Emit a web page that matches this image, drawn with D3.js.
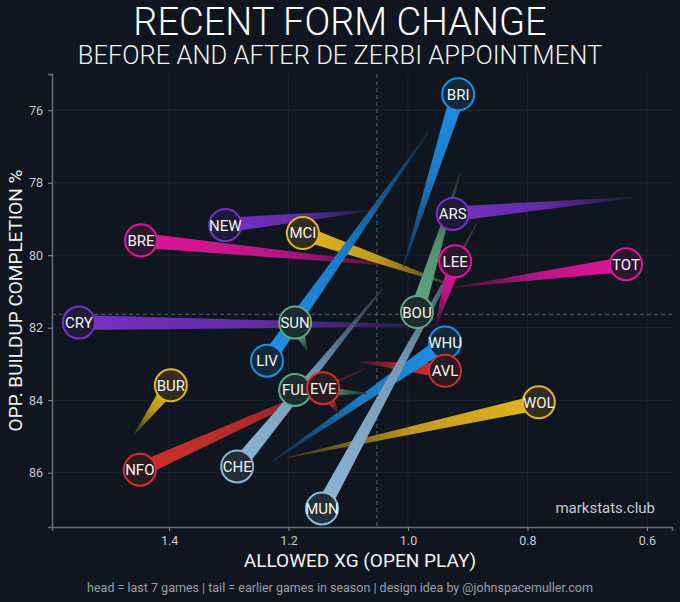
<!DOCTYPE html>
<html>
<head>
<meta charset="utf-8">
<script src="https://cdn.jsdelivr.net/npm/d3@7"></script>
<style>
  body { margin: 0; background: #0f161f; }
  svg { display: block; font-family: Roboto, "Noto Sans", sans-serif; }
</style>
</head>
<body>
<div id="chart"></div>
<script>
'use strict';

// head = last 7 games, tail = earlier games in season
var teams    = ['CRY', 'BRE', 'NEW', 'ARS', 'TOT', 'WOL', 'NFO', 'AVL', 'CHE', 'WHU', 'MCI', 'MUN', 'BRI', 'LIV', 'BOU', 'LEE', 'SUN', 'FUL', 'EVE', 'BUR'];
var headXg   = [1.551, 1.447, 1.306, 0.925, 0.635, 0.781, 1.449, 0.938, 1.286, 0.938, 1.176, 1.144, 0.916, 1.236, 0.985, 0.921, 1.189, 1.189, 1.142, 1.397];
var headComp = [81.86, 79.59, 79.17, 78.86, 80.25, 84.06, 85.92, 83.19, 85.83, 82.41, 79.39, 86.99, 75.56, 82.91, 81.57, 80.17, 81.86, 83.72, 83.67, 83.59];
var tailXg   = [0.946, 1.005, 1.064, 0.625, 0.921, 1.203, 1.072, 1.082, 1.042, 1.226, 0.926, 0.885, 1.008, 0.967, 0.913, 0.953, 1.169, 1.069, 1.117, 1.457];
var tailComp = [81.94, 80.30, 78.77, 78.41, 80.88, 85.59, 83.13, 82.94, 80.91, 85.67, 80.83, 79.13, 80.33, 76.63, 77.75, 81.94, 82.63, 83.81, 84.36, 84.91];

var xTicks = [1.4, 1.2, 1.0, 0.8, 0.6];
var yTicks = [76, 78, 80, 82, 84, 86];
var avgXg = 1.052;
var avgComp = 81.63;

var blue = '#1f8fe6', steel = '#8cb6d6', purple = '#7431c4', pink = '#e0169a',
    gold = '#e6b61e', sage = '#5fa882', red = '#d0312a';
var colorOf = {
  BRI: blue, LIV: blue, WHU: blue,
  CHE: steel, MUN: steel,
  ARS: purple, NEW: purple, CRY: purple,
  TOT: pink, LEE: pink, BRE: pink,
  MCI: gold, WOL: gold, BUR: gold,
  BOU: sage, SUN: sage, FUL: sage,
  AVL: red, EVE: red, NFO: red
};

var bg = '#0f161f';
var width = 680, height = 602;
var margin = { top: 74, right: 8, bottom: 75, left: 52 };

var rows = teams.map(function (t, i) {
  return { team: t, hx: headXg[i], hy: headComp[i], tx: tailXg[i], ty: tailComp[i] };
});

var x = d3.scaleLinear().domain([1.596, 0.558]).range([margin.left, width - margin.right]);
var y = d3.scaleLinear().domain([75.0, 87.5]).range([margin.top, height - margin.bottom]);

var svg = d3.select('#chart').append('svg')
  .attr('width', width)
  .attr('height', height);

svg.append('rect')
  .attr('width', width)
  .attr('height', height)
  .attr('fill', bg);

// grid
svg.append('g').selectAll('line')
  .data(xTicks)
  .enter().append('line')
  .attr('x1', function (d) { return x(d); })
  .attr('x2', function (d) { return x(d); })
  .attr('y1', margin.top)
  .attr('y2', height - margin.bottom)
  .attr('stroke', '#1b2631');

svg.append('g').selectAll('line')
  .data(yTicks)
  .enter().append('line')
  .attr('x1', margin.left)
  .attr('x2', width - margin.right)
  .attr('y1', function (d) { return y(d); })
  .attr('y2', function (d) { return y(d); })
  .attr('stroke', '#1b2631');

// averages
svg.append('line')
  .attr('x1', x(avgXg)).attr('x2', x(avgXg))
  .attr('y1', margin.top).attr('y2', height - margin.bottom)
  .attr('stroke', '#56616c')
  .attr('stroke-dasharray', '4,3');

svg.append('line')
  .attr('x1', margin.left).attr('x2', width - margin.right)
  .attr('y1', y(avgComp)).attr('y2', y(avgComp))
  .attr('stroke', '#56616c')
  .attr('stroke-dasharray', '4,3');

// tapered tails
var defs = svg.append('defs');
var fade = function (c, k) { return d3.interpolateRgb(c, bg)(k); };

rows.forEach(function (d, i) {
  var g = defs.append('linearGradient')
    .attr('id', 'g' + i)
    .attr('gradientUnits', 'userSpaceOnUse')
    .attr('x1', x(d.hx)).attr('y1', y(d.hy))
    .attr('x2', x(d.tx)).attr('y2', y(d.ty));
  g.append('stop').attr('offset', '0').attr('stop-color', colorOf[d.team]);
  g.append('stop').attr('offset', '0.5').attr('stop-color', fade(colorOf[d.team], 0.18));
  g.append('stop').attr('offset', '1').attr('stop-color', fade(colorOf[d.team], 0.82));
});

svg.append('g').selectAll('path')
  .data(rows)
  .enter().append('path')
  .attr('fill', function (d, i) { return 'url(#g' + i + ')'; })
  .attr('d', function (d) {
    var x0 = x(d.hx), y0 = y(d.hy), x1 = x(d.tx), y1 = y(d.ty);
    var len = Math.sqrt((x1 - x0) * (x1 - x0) + (y1 - y0) * (y1 - y0)) || 1;
    var nx = -(y1 - y0) / len, ny = (x1 - x0) / len;
    var w = 7.5, wt = 0.6;
    return 'M' + (x0 + nx * w) + ',' + (y0 + ny * w) +
      'L' + (x1 + nx * wt) + ',' + (y1 + ny * wt) +
      'L' + (x1 - nx * wt) + ',' + (y1 - ny * wt) +
      'L' + (x0 - nx * w) + ',' + (y0 - ny * w) + 'Z';
  });

// heads
var order = ['CRY', 'BRE', 'NEW', 'ARS', 'TOT', 'WOL', 'NFO', 'CHE', 'WHU', 'AVL', 'MCI', 'MUN', 'BRI', 'LIV', 'BOU', 'LEE', 'SUN', 'FUL', 'EVE', 'BUR'];
var heads = svg.append('g').selectAll('g')
  .data(rows.slice().sort(function (a, b) { return order.indexOf(a.team) - order.indexOf(b.team); }))
  .enter().append('g')
  .attr('transform', function (d) { return 'translate(' + x(d.hx) + ',' + y(d.hy) + ')'; });

heads.append('circle')
  .attr('r', 16)
  .attr('fill', function (d) { return fade(colorOf[d.team], 0.85); })
  .attr('stroke', function (d) { return colorOf[d.team]; })
  .attr('stroke-width', 2);

heads.append('text')
  .attr('text-anchor', 'middle')
  .attr('dy', '0.36em')
  .attr('fill', '#f4f4f4')
  .style('font-size', '15px')
  .text(function (d) { return d.team; });

// axes
var xAxis = svg.append('g')
  .attr('transform', 'translate(0,' + (height - margin.bottom) + ')')
  .call(d3.axisBottom(x).tickValues(xTicks).tickFormat(d3.format('.1f')).tickSize(4).tickPadding(5));

var yAxis = svg.append('g')
  .attr('transform', 'translate(' + margin.left + ',0)')
  .call(d3.axisLeft(y).tickValues(yTicks).tickSize(4).tickPadding(5));

[xAxis, yAxis].forEach(function (a) {
  a.select('.domain').attr('stroke', '#626e79').attr('stroke-width', 1.5);
  a.selectAll('.tick line').attr('stroke', '#8a949d');
  a.selectAll('.tick text')
    .attr('fill', '#c6cbd0')
    .style('font-size', '12.5px')
    .style('font-family', 'Roboto, sans-serif');
});

// text
svg.append('text')
  .attr('x', width / 2).attr('y', 35)
  .attr('text-anchor', 'middle')
  .attr('fill', '#ffffff')
  .style('font-size', '38px')
  .style('font-weight', 300)
  .text('RECENT FORM CHANGE');

svg.append('text')
  .attr('x', width / 2).attr('y', 64)
  .attr('text-anchor', 'middle')
  .attr('fill', '#f2f2f2')
  .style('font-size', '25.5px')
  .style('font-weight', 300)
  .text('BEFORE AND AFTER DE ZERBI APPOINTMENT');

svg.append('text')
  .attr('x', (margin.left + width - margin.right) / 2 - 2).attr('y', 567)
  .attr('text-anchor', 'middle')
  .attr('fill', '#f2f2f2')
  .style('font-size', '19px')
  .text('ALLOWED XG (OPEN PLAY)');

svg.append('text')
  .attr('transform', 'translate(22,' + ((margin.top + height - margin.bottom) / 2) + ') rotate(-90)')
  .attr('text-anchor', 'middle')
  .attr('fill', '#f2f2f2')
  .style('font-size', '19px')
  .text('OPP. BUILDUP COMPLETION %');

svg.append('text')
  .attr('x', 655).attr('y', 513)
  .attr('text-anchor', 'end')
  .attr('fill', '#c6cbd0')
  .style('font-size', '15px')
  .text('markstats.club');

svg.append('text')
  .attr('x', width / 2).attr('y', 592)
  .attr('text-anchor', 'middle')
  .attr('fill', '#9aa1a8')
  .style('font-size', '12.5px')
  .text('head = last 7 games | tail = earlier games in season | design idea by @johnspacemuller.com');
</script>
</body>
</html>
